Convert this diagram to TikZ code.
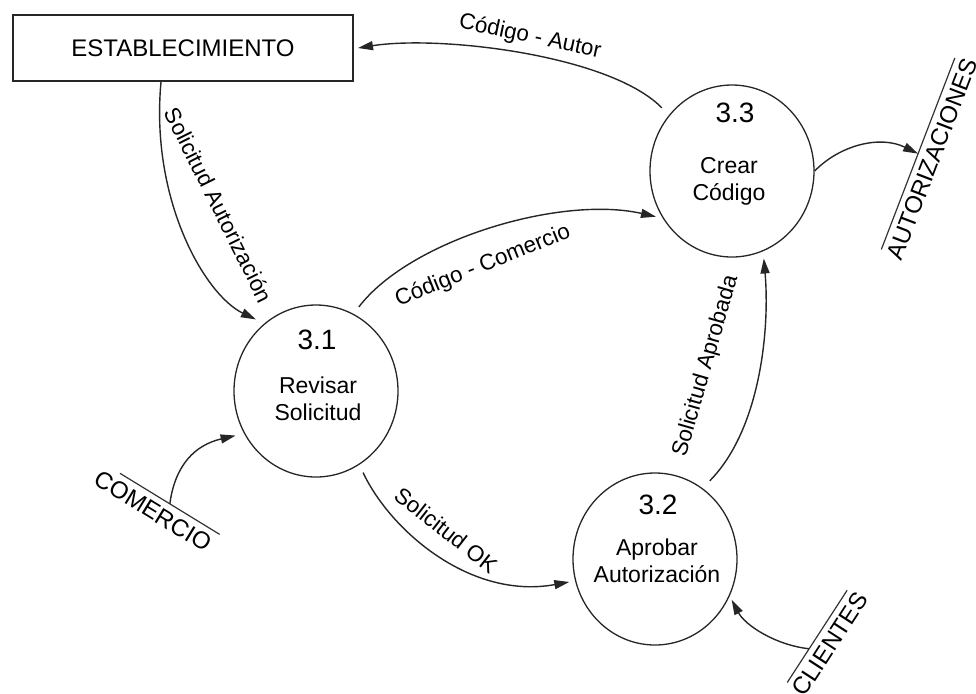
\documentclass[tikz,border=0pt]{standalone}
\usepackage{fontspec}
\setmainfont{Liberation Sans}
\usetikzlibrary{arrows.meta,shapes.geometric,calc}
\begin{document}
\begin{tikzpicture}[x=0.5pt,y=-0.5pt,
  entity/.style={draw=black!85, line width=1pt, minimum width=170pt, minimum height=33pt,
    inner sep=0pt, font=\fontsize{12}{14}\selectfont},
  process/.style={ellipse, draw=black!85, line width=0.65pt, minimum width=82pt,
    minimum height=86pt, inner sep=0pt},
  procnum/.style={font=\fontsize{14}{16}\selectfont, inner sep=0pt},
  procname/.style={font=\fontsize{11.5}{13.5}\selectfont, align=center, inner sep=0pt},
  store/.style={font=\fontsize{12}{14}\selectfont, inner xsep=0pt, inner ysep=3pt},
  storeline/.style={draw=black!80, line width=0.6pt},
  flow/.style={draw=black!85, line width=0.7pt, -{Triangle[length=7.5pt,width=4.5pt]}},
  flowlabel/.style={font=\fontsize{11.2}{13}\selectfont, inner sep=0pt},
]
\useasboundingbox (0,0) rectangle (976,693);

% external entity
\node[entity] (estab) at (183,48) {ESTABLECIMIENTO};

% processes
\node[process] (p31) at (316,391) {};
\node[procnum] (p31n) at (317,340) {3.1};
\node[procname] (p31t) at (318,398.5) {Revisar\\Solicitud};

\node[process] (p32) at (655,559) {};
\node[procnum] (p32n) at (658,505) {3.2};
\node[procname] (p32t) at (657,560.5) {Aprobar\\Autorización};

\node[process] (p33) at (732,171) {};
\node[procnum] (p33n) at (735,113) {3.3};
\node[procname] (p33t) at (729,181) {Crear\\Código};

% data stores (text with a line along its top)
\node[store, rotate=69] (sAut) at (932,159) {AUTORIZACIONES};
\draw[storeline] ($(sAut.north west)!0.02!(sAut.north east)$) -- ($(sAut.north west)!0.98!(sAut.north east)$);
\coordinate (autIn) at ($(sAut.north west)!0.5!(sAut.north east)$);

\node[store, rotate=-31.5] (sCom) at (153,511) {COMERCIO};
\draw[storeline] ($(sCom.north west)!0.14!(sCom.north east)$) -- ($(sCom.north west)!1.02!(sCom.north east)$);
\coordinate (comOut) at ($(sCom.north west)!0.58!(sCom.north east)$);

\node[store, rotate=57] (sCli) at (830,644) {CLIENTES};
\draw[storeline] ($(sCli.north west)!0.03!(sCli.north east)$) -- ($(sCli.north west)!0.96!(sCli.north east)$);
\coordinate (cliOut) at ($(sCli.north west)!0.37!(sCli.north east)$);

% data flows
\draw[flow] ($(estab.south west)+(149,0)$) .. controls (150,200) and (205,295) .. ($(p31)!1.1!(p31.130)$);
\node[flowlabel, rotate=-63.5] (lSA) at (219,205) {Solicitud Autorización};

\draw[flow] ($(p31)!1.1!(p31.63)$) .. controls (410,240) and (560,195) .. ($(p33)!1.06!(p33.211)$);
\node[flowlabel, rotate=22] (lCC) at (483,266) {Código - Comercio};

\draw[flow] ($(p33)!1.12!(p33.138)$) .. controls (610,55) and (440,35) .. ($(estab.east)+(4,0)$);
\node[flowlabel, rotate=-12] (lCA) at (530,37) {Código - Autor};

\draw[flow] (p33.east) .. controls (840,145) and (880,135) .. (autIn);

\draw[flow] ($(p32)!1.12!(p32.55)$) .. controls (760,430) and (770,330) .. ($(p33)!1.08!(p33.290)$);
\node[flowlabel, rotate=74] (lSAp) at (706,366) {Solicitud Aprobada};

\draw[flow] ($(p31)!1.1!(p31.300)$) .. controls (390,530) and (470,600) .. ($(p32)!1.07!(p32.195)$);
\node[flowlabel, rotate=-38] (lSOK) at (446,530) {Solicitud OK};

\draw[flow] (comOut) .. controls (175,465) and (195,445) .. ($(p31)!1.1!(p31.209)$);

\draw[flow] (cliOut) .. controls (775,645) and (745,625) .. ($(p32)!1.04!(p32.332)$);
\end{tikzpicture}
\end{document}
